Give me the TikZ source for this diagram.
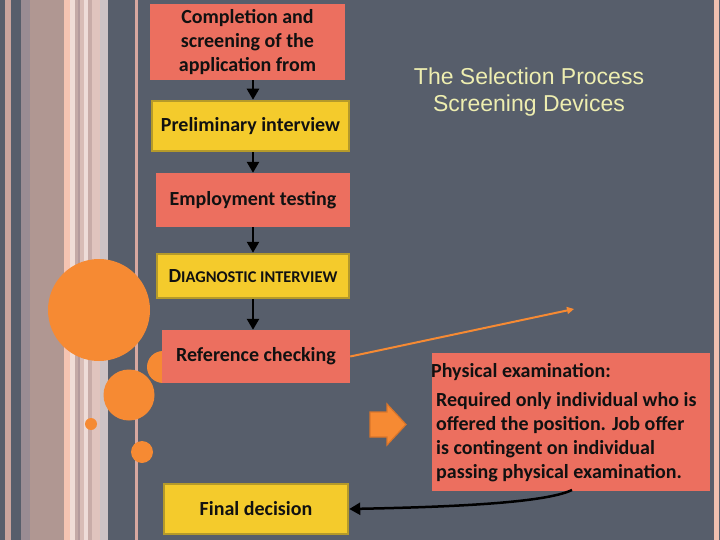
\documentclass[tikz,border=0pt]{standalone}
\usepackage{fontspec}
\setmainfont{Carlito}
\newfontfamily\titlefont{Liberation Sans}
\usetikzlibrary{arrows.meta}
\definecolor{slate}{HTML}{575E6B}
\definecolor{salmon}{HTML}{EC6F5F}
\definecolor{ybox}{HTML}{F4CB2C}
\definecolor{yborder}{HTML}{B59A2A}
\definecolor{orng}{HTML}{F68A33}
\definecolor{orngdark}{HTML}{D9752A}
\definecolor{ink}{HTML}{111111}
\definecolor{titlecol}{HTML}{EEEEB0}
\definecolor{sA}{HTML}{C9A49C}
\definecolor{sB}{HTML}{9A8C93}
\definecolor{sC}{HTML}{B09792}
\definecolor{sD}{HTML}{F6C4B2}
\definecolor{sE}{HTML}{F0DCD6}
\definecolor{sF}{HTML}{C4A9A6}
\definecolor{sG}{HTML}{B49A9C}
\definecolor{sH}{HTML}{D8BCB6}
\definecolor{sI}{HTML}{EEDCD8}
\definecolor{sJ}{HTML}{C8ACA8}
\definecolor{sK}{HTML}{E0C4BE}
\definecolor{sL}{HTML}{CDC3C5}
\definecolor{sM}{HTML}{D8A8A0}
\definecolor{sN}{HTML}{F0C0B0}
\tikzset{
  salmonbox/.style={fill=salmon, draw=none, inner sep=0pt, text=ink, font=\bfseries\fontsize{20}{24}\selectfont, align=center},
  yellowbox/.style={fill=ybox, draw=yborder, line width=2.5pt, inner sep=0pt, text=ink, font=\bfseries\fontsize{20}{24}\selectfont, align=center},
  flowarrow/.style={draw=black, line width=2.5pt, -{Triangle[length=11pt,width=12pt]}},
  dot/.style={fill=orng, draw=none},
}
\begin{document}
\begin{tikzpicture}[x=1pt,y=-1pt]
\useasboundingbox (0,0) rectangle (720,540);
% background
\fill[slate] (0,0) rectangle (720,540);
% left stripes
\fill[sA] (5,0) rectangle (11,540);
\fill[sB] (21,0) rectangle (30,540);
\fill[sC] (30,0) rectangle (64,540);
\fill[sD] (64,0) rectangle (70,540);
\fill[sE] (70,0) rectangle (75,540);
\fill[sF] (75,0) rectangle (78,540);
\fill[sG] (78,0) rectangle (80,540);
\fill[sH] (80,0) rectangle (84,540);
\fill[sI] (84,0) rectangle (88,540);
\fill[sJ] (88,0) rectangle (92,540);
\fill[sK] (92,0) rectangle (100,540);
\fill[sL] (100,0) rectangle (108,540);
\fill[sM] (135,0) rectangle (138,540);
% right stripe
\fill[sN] (714,0) rectangle (719,540);
% circles
\fill[dot] (99,310) circle (51);
\fill[dot] (129,395) circle (25.5);
\fill[dot] (91,424) circle (6);
\fill[dot] (142,452) circle (11);
\fill[dot] (163,367) circle (16);
% flow boxes
\node[salmonbox, minimum width=195pt, minimum height=76pt] (comp) at (247.5,42) {Completion and\\screening of the\\application from};
\node[yellowbox, minimum width=197pt, minimum height=50pt] (prelim) at (250.5,126) {Preliminary interview};
\node[salmonbox, minimum width=194pt, minimum height=54pt] (emp) at (253,200) {Employment testing};
\node[yellowbox, minimum width=192pt, minimum height=44pt] (diag) at (253,276) {{\fontsize{20}{22}\selectfont D}{\fontsize{16.4}{22}\selectfont IAGNOSTIC INTERVIEW}};
\node[salmonbox, minimum width=188pt, minimum height=53pt] (ref) at (256,356.5) {Reference checking};
\node[yellowbox, minimum width=184pt, minimum height=50pt] (final) at (256,509) {Final decision};
% physical exam box
\node[fill=salmon, minimum width=278pt, minimum height=138pt, inner sep=0pt] (phys) at (571,422) {};
\node[anchor=base west, inner sep=0pt, text=ink, font=\bfseries\fontsize{20}{24}\selectfont] (physhead) at (431,377) {Physical examination:};
\node[anchor=north west, inner sep=0pt, text=ink, align=left, font=\bfseries\fontsize{20}{24}\selectfont] (physbody) at (436,392.5) {Required only individual who is\\offered the position. Job offer\\is contingent on individual\\passing physical examination.};
% title
\node[text=titlecol, align=center, font=\titlefont\fontsize{23}{27}\selectfont] (title) at (529,92) {The Selection Process\\Screening Devices};
% vertical arrows
\coordinate (xa) at (253,0);
\draw[flowarrow] (comp.south -| xa) -- (prelim.north -| xa);
\draw[flowarrow] (prelim.south -| xa) -- (emp.north -| xa);
\draw[flowarrow] (emp.south -| xa) -- (diag.north -| xa);
\draw[flowarrow] (diag.south -| xa) -- (ref.north -| xa);
% orange connector
\coordinate (oend) at (574,309);
\draw[orng, line width=2pt, -{Triangle[length=7pt,width=7pt]}] (ref.east) -- (oend);
% block arrow
\filldraw[fill=orng, draw=orngdark, line width=1.2pt] (370,412) -- (387,412) -- (387,404) -- (406,424.5) -- (387,445) -- (387,437) -- (370,437) -- cycle;
% curved arrow
\coordinate (cstart) at (572,490);
\draw[black, line width=2.5pt, -{Triangle[length=11pt,width=12pt]}] (cstart) .. controls (545,503) and (450,507) .. (final.east);
\end{tikzpicture}
\end{document}
